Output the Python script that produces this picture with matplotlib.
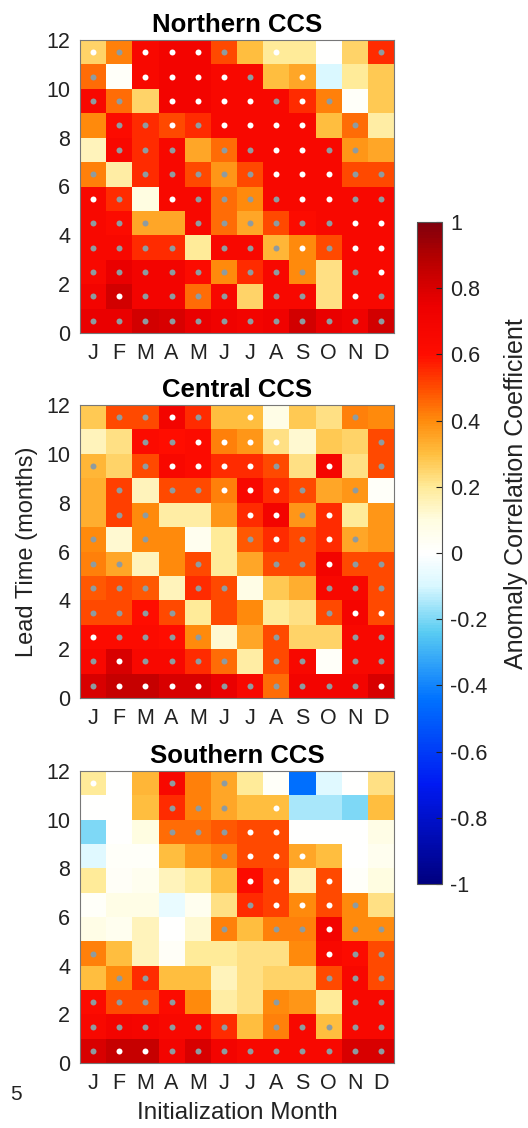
import numpy as np
import matplotlib
matplotlib.use("Agg")
import matplotlib.pyplot as plt
from matplotlib.colors import LinearSegmentedColormap

plt.rcParams['font.family'] = ['Liberation Sans', 'DejaVu Sans']

months = ["J", "F", "M", "A", "M", "J", "J", "A", "S", "O", "N", "D"]
lead_ticks = [0, 2, 4, 6, 8, 10, 12]
titles = ["Northern CCS", "Central CCS", "Southern CCS"]
cbar_ticks = [-1, -0.8, -0.6, -0.4, -0.2, 0, 0.2, 0.4, 0.6, 0.8, 1]

# Rows are listed from the longest lead (top) down to lead 0 (bottom).
north_acc = [
    [.25, .42, .65, .70, .70, .50, .30, .20, .20, .00, .25, .55],
    [.45, .02, .65, .70, .70, .65, .65, .30, .35, -.10, .20, .28],
    [.65, .45, .25, .70, .70, .65, .65, .65, .55, .42, .02, .28],
    [.40, .62, .55, .50, .55, .65, .65, .65, .65, .30, .45, .18],
    [.15, .65, .55, .65, .35, .45, .65, .65, .65, .65, .38, .35],
    [.42, .18, .55, .65, .50, .38, .50, .65, .65, .65, .50, .50],
    [.65, .55, .10, .65, .65, .45, .40, .65, .65, .65, .65, .65],
    [.65, .62, .35, .35, .65, .45, .35, .50, .62, .65, .65, .65],
    [.65, .65, .55, .55, .20, .65, .65, .32, .40, .50, .65, .65],
    [.65, .75, .70, .70, .62, .40, .55, .65, .40, .22, .65, .65],
    [.70, .82, .70, .70, .45, .65, .25, .65, .65, .22, .65, .65],
    [.75, .75, .82, .80, .75, .72, .70, .72, .82, .75, .72, .82],
]
north_sig = [
    "wgwwwg.w...g",
    "g.wwwwg.w...",
    "gg.wwwwgwg..",
    ".ggwgwwww.g.",
    ".ggg.ggwwgg.",
    "g.gggggwwwgg",
    "wg.wggggwwgg",
    "ggg.ggggggww",
    "gggg.gggwgww",
    "ggggggggg.gw",
    "gwgggg.gg.wg",
    "gggggggggggg",
]
central_acc = [
    [.28, .50, .50, .70, .55, .30, .30, .08, .28, .22, .42, .40],
    [.15, .22, .62, .60, .62, .42, .38, .22, .12, .28, .25, .50],
    [.32, .25, .50, .65, .62, .55, .55, .50, .22, .68, .22, .50],
    [.33, .52, .15, .50, .50, .42, .65, .55, .50, .35, .38, .02],
    [.33, .52, .40, .18, .18, .38, .55, .70, .38, .55, .20, .38],
    [.40, .12, .40, .40, .05, .20, .48, .55, .50, .55, .35, .38],
    [.42, .35, .15, .40, .50, .20, .35, .50, .50, .70, .50, .50],
    [.48, .50, .48, .15, .55, .50, .08, .28, .33, .65, .65, .50],
    [.50, .50, .60, .50, .20, .50, .40, .20, .22, .50, .68, .50],
    [.62, .62, .62, .60, .40, .12, .35, .50, .25, .25, .65, .65],
    [.65, .80, .65, .65, .55, .45, .18, .50, .65, .02, .65, .65],
    [.80, .85, .85, .80, .80, .75, .65, .45, .70, .70, .70, .80],
]
central_sig = [
    ".ggwg.w...g.",
    "..ggwwww...g",
    "g.gwwwwg.w.g",
    ".g.ggwwwg.g.",
    ".gg...wwgw..",
    "g.g...gwgwg.",
    "gg..g..ggwgg",
    "ggg.gg...ggg",
    "gggg.....gww",
    "wgggg..g..gg",
    "gwgggg.gg.gg",
    "gwwwwggggggw",
]
south_acc = [
    [.20, .00, .32, .65, .42, .35, .20, .02, -.45, -.08, .00, .22],
    [.00, .00, .30, .55, .42, .35, .30, .30, -.15, -.15, -.20, .30],
    [-.20, .00, .10, .45, .45, .48, .50, .50, .00, .00, .00, .08],
    [-.08, .02, .02, .30, .38, .42, .50, .50, .35, .30, .00, .05],
    [.20, .03, .05, .15, .20, .30, .62, .52, .15, .50, .02, .10],
    [.02, .08, .08, -.06, .05, .22, .55, .52, .40, .50, .40, .22],
    [.08, .05, .15, .00, .12, .42, .30, .42, .42, .70, .40, .40],
    [.42, .30, .15, .03, .20, .20, .22, .22, .40, .65, .62, .50],
    [.30, .40, .55, .30, .30, .15, .22, .25, .25, .50, .65, .50],
    [.62, .50, .50, .62, .40, .18, .22, .40, .38, .20, .65, .65],
    [.65, .70, .68, .65, .65, .55, .30, .42, .65, .30, .65, .65],
    [.80, .85, .85, .70, .80, .70, .65, .65, .65, .65, .80, .80],
]
south_sig = [
    "w..g.g......",
    "...ggg.w....",
    "...gggww....",
    ".....gwww...",
    "......ww.w..",
    "......gwwwg.",
    ".....g.ggwgg",
    "g........wgg",
    ".gg......ggg",
    "gggg...g..gg",
    "gggggg.ggggg",
    "gwwggggggggg",
]

# Diverging map: navy -> blue -> cyan -> white -> yellow -> orange -> red -> maroon
cmap = LinearSegmentedColormap.from_list("acc", [
    (0.00, (0.00, 0.00, 0.50)),
    (0.15, (0.00, 0.10, 0.95)),
    (0.28, (0.00, 0.45, 1.00)),
    (0.38, (0.35, 0.80, 0.95)),
    (0.45, (0.85, 0.97, 1.00)),
    (0.50, (1.00, 1.00, 1.00)),
    (0.55, (1.00, 0.99, 0.88)),
    (0.60, (1.00, 0.92, 0.60)),
    (0.65, (1.00, 0.75, 0.25)),
    (0.70, (1.00, 0.55, 0.05)),
    (0.75, (1.00, 0.30, 0.00)),
    (0.80, (1.00, 0.05, 0.00)),
    (0.875, (0.93, 0.00, 0.00)),
    (0.95, (0.70, 0.00, 0.00)),
    (1.00, (0.50, 0.00, 0.05)),
])

fig = plt.figure(figsize=(5.28, 11.28), dpi=100)
W, H = 528.0, 1128.0
panel_px = [(40, 333), (405, 698), (771, 1063)]
left_px, right_px = 80, 394

panels = [(north_acc, north_sig), (central_acc, central_sig), (south_acc, south_sig)]
edges = np.arange(13)
centers = np.arange(12) + 0.5
gray_dot = '#8e9ba0'

mesh = None
for k, ((acc, sig), (top, bot)) in enumerate(zip(panels, panel_px)):
    ax = fig.add_axes([left_px / W, 1 - bot / H, (right_px - left_px) / W, (bot - top) / H])
    data = np.flipud(np.array(acc, dtype=float))
    mesh = ax.pcolormesh(edges, edges, data, cmap=cmap, vmin=-1, vmax=1, shading='flat')
    marks = sig[::-1]
    for color, code in ((gray_dot, 'g'), ('white', 'w')):
        xs = [centers[c] for r in range(12) for c in range(12) if marks[r][c] == code]
        ys = [centers[r] for r in range(12) for c in range(12) if marks[r][c] == code]
        ax.plot(xs, ys, 'o', ms=4.3, mfc=color, mec='none', ls='none')
    ax.set_xlim(0, 12)
    ax.set_ylim(0, 12)
    ax.set_xticks(centers)
    ax.set_xticklabels(months)
    ax.set_yticks(lead_ticks)
    ax.tick_params(length=0, labelsize=15.5, pad=7, colors='#222222')
    for s in ax.spines.values():
        s.set_color('#777777')
        s.set_linewidth(0.8)
    ax.set_title(titles[k], fontsize=18.5, fontweight='bold', pad=6)
    if k == 1:
        ax.set_ylabel("Lead Time (months)", fontsize=17, labelpad=6, color='#222222')
    if k == 2:
        ax.set_xlabel("Initialization Month", fontsize=17.5, labelpad=6, color='#222222')

cax = fig.add_axes([417 / W, 1 - 884 / H, 25 / W, 662 / H])
cb = fig.colorbar(mesh, cax=cax, ticks=cbar_ticks)
cb.ax.set_yticklabels([f"{t:g}" for t in cbar_ticks])
cb.ax.tick_params(direction='in', length=4, width=0.8, labelsize=15.5, pad=6, colors='#222222')
cb.outline.set_linewidth(0.8)
cb.outline.set_edgecolor('#555555')
cb.set_label("Anomaly Correlation Coefficient", fontsize=18, color='#222222')
cb.ax.yaxis.set_label_coords(3.5, 0.59)

fig.text(10 / W, 1 - 1095 / H, "5", fontsize=15, va='center', ha='left', color='#222222')

fig.savefig("out.png", dpi=100)
